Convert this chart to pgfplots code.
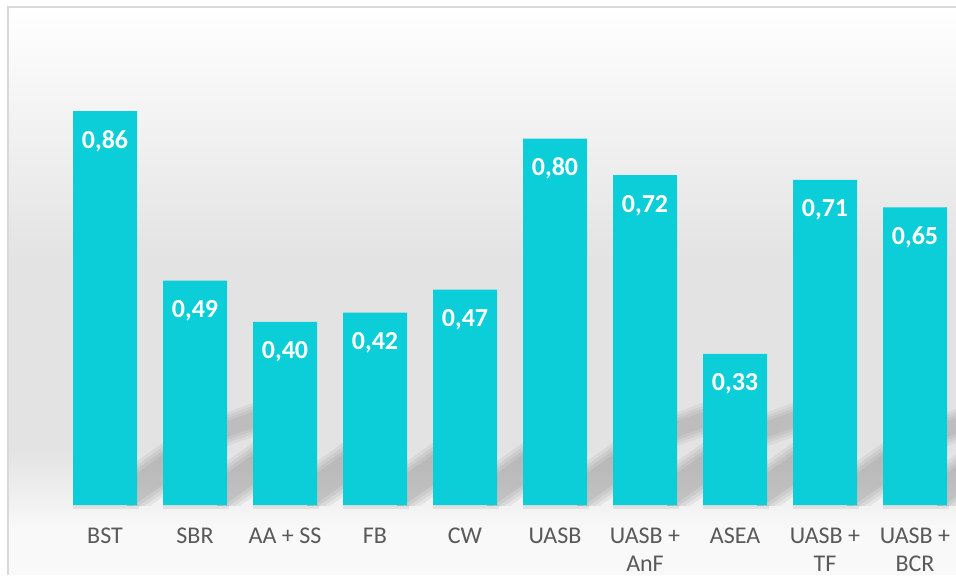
\documentclass[border=0pt]{standalone}
\usepackage{pgfplots}
\pgfplotsset{compat=1.18}
\usepackage{pgfplotstable}
\usepackage{fontspec}
\setmainfont{Carlito}
\definecolor{barc}{RGB}{12,206,216}
\definecolor{bgmid}{RGB}{227,227,227}
\definecolor{bglow}{RGB}{249,249,249}
\definecolor{framec}{RGB}{217,217,217}
\definecolor{labc}{RGB}{89,89,89}
\pgfplotstableread{
x y lab
0 0.86 0,86
1 0.49 0,49
2 0.40 0,40
3 0.42 0,42
4 0.47 0,47
5 0.80 0,80
6 0.72 0,72
7 0.33 0,33
8 0.71 0,71
9 0.65 0,65
}\data
% pixel -> axis units
\newcommand{\PX}[1]{((#1)-105)/90}
\newcommand{\PY}[1]{(505-(#1))/458}
% soft diagonal band: gap-left px, centre y px, slope, half thickness, opacity
\newcommand{\sband}[5]{%
  \fill[black, opacity=#5]
    (axis cs:{\PX{#1-10}},{\PY{#2+10*#3-#4}}) --
    (axis cs:{\PX{#1+36}},{\PY{#2-36*#3-#4}}) --
    (axis cs:{\PX{#1+36}},{\PY{#2-36*#3+#4}}) --
    (axis cs:{\PX{#1-10}},{\PY{#2+10*#3+#4}}) -- cycle;}
\newcommand{\lowband}[1]{%
  \sband{#1}{488}{0.7}{27}{0.05}\sband{#1}{488}{0.7}{23}{0.05}%
  \sband{#1}{488}{0.7}{19}{0.05}\sband{#1}{488}{0.7}{15}{0.05}}
\newcommand{\upband}[1]{%
  \sband{#1}{429}{0.35}{17}{0.045}\sband{#1}{429}{0.35}{14}{0.045}%
  \sband{#1}{429}{0.35}{11}{0.045}\sband{#1}{429}{0.35}{8}{0.045}}
\begin{document}
\begin{tikzpicture}
\begin{axis}[
  set layers,
  scale only axis,
  width=717pt, height=378.75pt,
  xmin=-1.166667, xmax=9.455556,
  ymin=0, ymax=1.102620,
  clip=false,
  axis line style={draw=none},
  major tick length=0pt,
  ytick=\empty,
  xtick=data,
  xticklabels={BST,SBR,AA + SS,FB,CW,UASB,UASB +\\AnF,ASEA,UASB +\\TF,UASB +\\BCR},
  xticklabel style={font=\fontsize{18}{21}\selectfont, align=center, text=labc, anchor=north, yshift=-14pt},
  ybar, bar width=48pt,
  point meta=explicit symbolic,
  nodes near coords,
  nodes near coords style={font=\fontsize{19.5}{20}\selectfont\bfseries, text=white, anchor=center, yshift=-22.5pt},
]
\begin{pgfonlayer}{axis background}
\fill[top color=white, bottom color=bgmid] (axis cs:{\PX{8}},{\PY{260}}) rectangle (axis cs:{\PX{970}},{\PY{7}});
\fill[bgmid] (axis cs:{\PX{8}},{\PY{450}}) rectangle (axis cs:{\PX{970}},{\PY{260}});
\fill[top color=bgmid, bottom color=bglow] (axis cs:{\PX{8}},{\PY{530}}) rectangle (axis cs:{\PX{970}},{\PY{450}});
\fill[bglow] (axis cs:{\PX{8}},{\PY{575}}) rectangle (axis cs:{\PX{970}},{\PY{530}});
\draw[framec, line width=1.5pt] (axis cs:{\PX{8}},{\PY{575}}) -- (axis cs:{\PX{8}},{\PY{7}}) -- (axis cs:{\PX{970}},{\PY{7}});
\begin{scope}
\clip (axis cs:{\PX{8}},{\PY{505}}) rectangle (axis cs:{\PX{970}},{\PY{300}});
\pgfplotsinvokeforeach{137,227,317,407,497,587,677,767,857,947}{\lowband{#1}}
\pgfplotsinvokeforeach{227,677,767,947}{\upband{#1}}
\end{scope}
\pgfplotsinvokeforeach{73,163,253,343,433,523,613,703,793,883}{
  \fill[black, opacity=0.07] (axis cs:{\PX{#1}},{\PY{509}}) rectangle (axis cs:{\PX{#1+66}},{\PY{505}});
}
\end{pgfonlayer}
\addplot[fill=barc, draw=none] table[x=x, y=y, meta=lab] {\data};
\coordinate (BL) at (axis cs:-1.166667,-0.152838);
\coordinate (TR) at (axis cs:9.455556,1.102620);
\end{axis}
\pgfresetboundingbox
\path[use as bounding box] (BL) rectangle (TR);
\end{tikzpicture}
\end{document}
